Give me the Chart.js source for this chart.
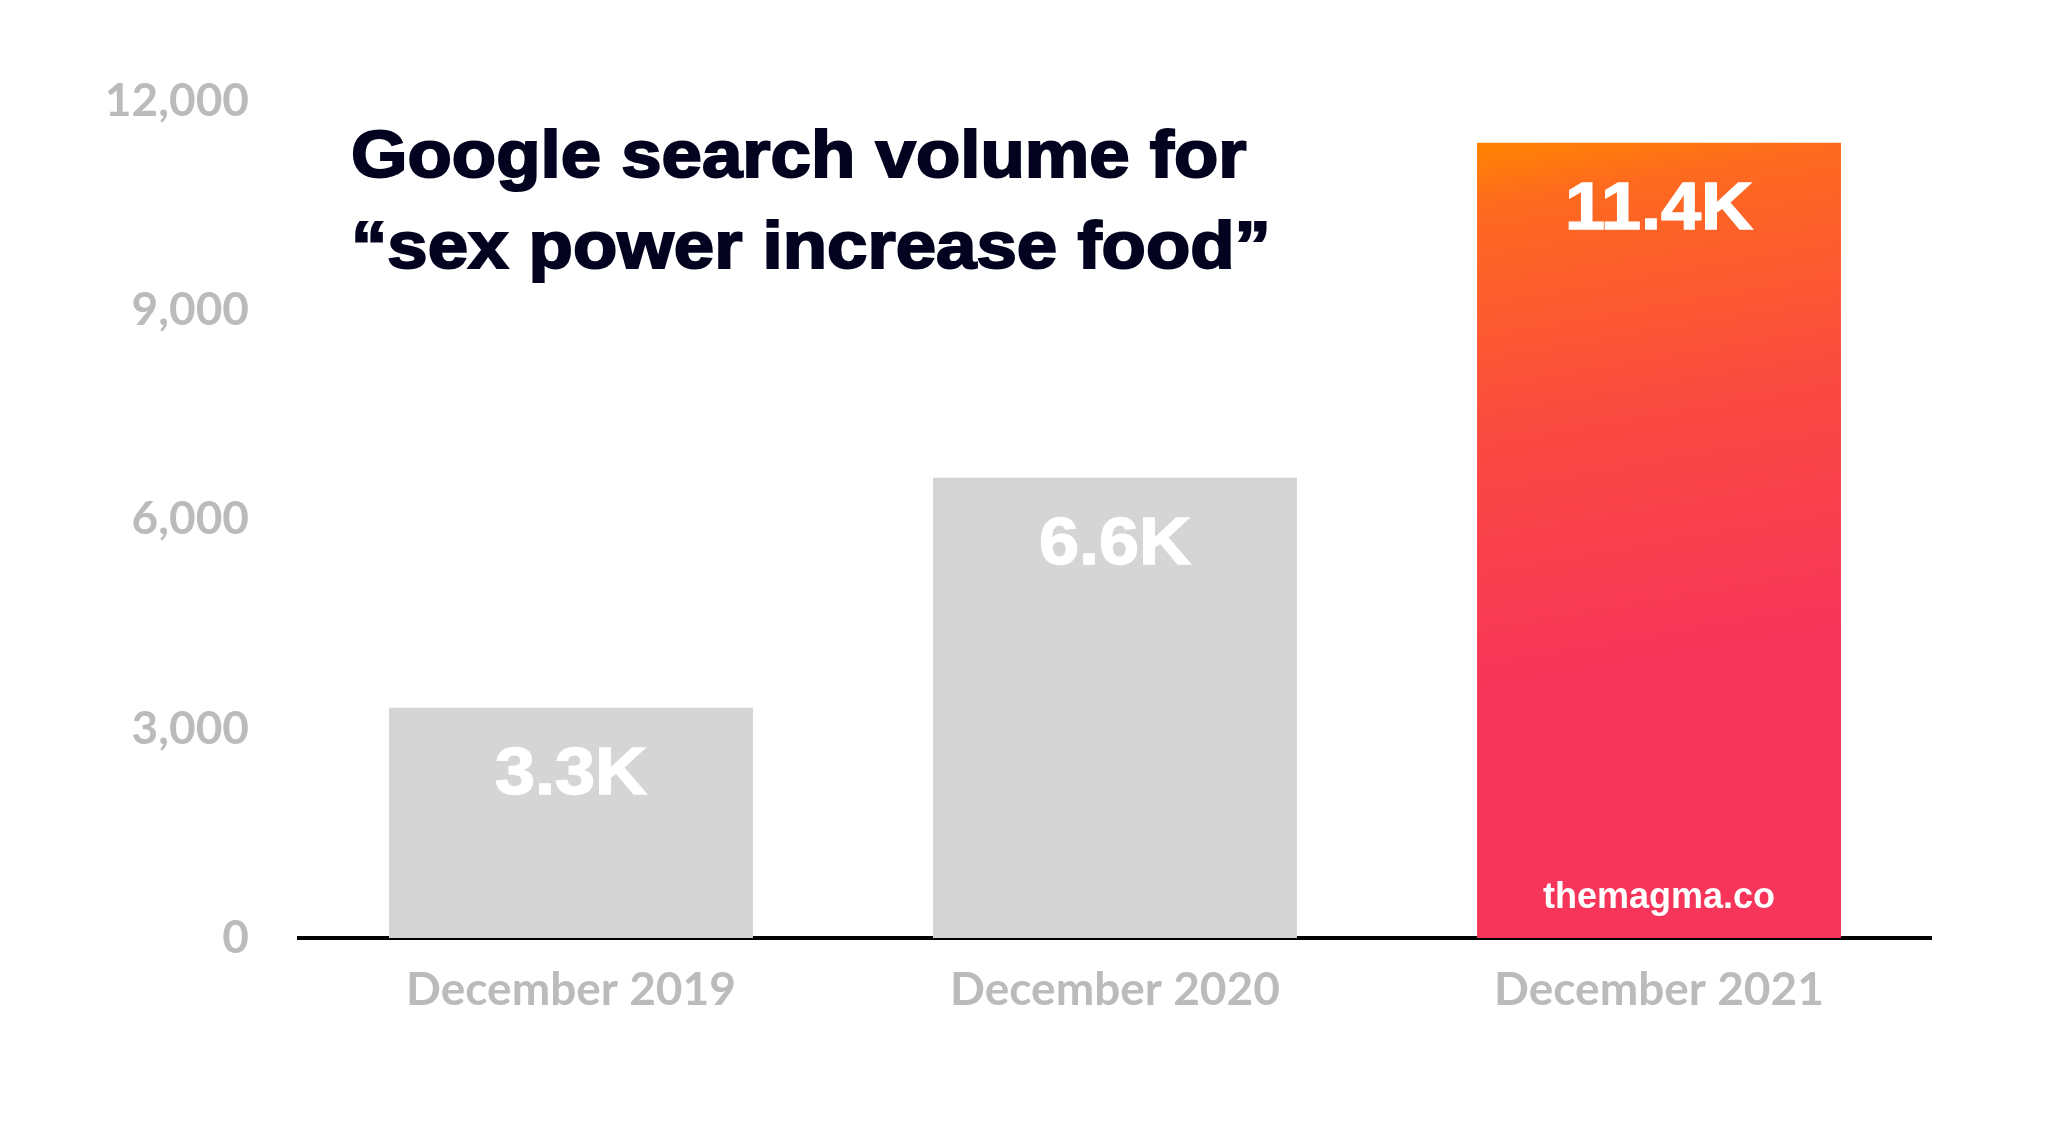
<!DOCTYPE html>
<html>
<head>
<meta charset="utf-8">
<script src="https://cdn.jsdelivr.net/npm/chart.js@4"></script>
<style>
  html, body { margin: 0; padding: 0; background: #fff; }
  #wrap { width: 2048px; height: 1144px; }
</style>
</head>
<body>
<div id="wrap"><canvas id="searchChart" width="2048" height="1144"></canvas></div>
<script>
const months = ['December 2019', 'December 2020', 'December 2021'];
const searchVolume = [3300, 6600, 11400];
const valueLabels = ['3.3K', '6.6K', '11.4K'];
const yTicks = [0, 3000, 6000, 9000, 12000];
const titleLines = ['Google search volume for', '\u201csex power increase food\u201d'];
const watermark = 'themagma.co';

const grey = '#d5d5d5';
const tickGrey = '#bbbbbb';

function barFill(context) {
    const chart = context.chart;
    if (context.dataIndex !== 2) return grey;
    if (!chart.chartArea) return '#f94a40';
    const x = chart.scales.x, y = chart.scales.y;
    const top = y.getPixelForValue(searchVolume[2]);
    const bottom = y.getPixelForValue(0);
    const cx = x.getPixelForValue(2);
    const half = (x.width / months.length) * 0.669 / 2;
    const g = chart.ctx.createLinearGradient(cx - half, top, cx - half + (half * 0.6), top + (bottom - top) * 0.8);
    g.addColorStop(0, '#ff8400');
    g.addColorStop(0.1, '#fe6a1f');
    g.addColorStop(0.45, '#fa4a40');
    g.addColorStop(0.85, '#f7345a');
    g.addColorStop(1, '#f7345a');
    return g;
}

// draw wide heavy text by stretching it a little
function wideText(ctx, text, x, y, stretch) {
    ctx.save();
    ctx.translate(x, y);
    ctx.scale(stretch, 1);
    ctx.fillText(text, 0, 0);
    ctx.strokeText(text, 0, 0);
    ctx.restore();
}

// title, value labels and watermark drawn on top of the bars
const overlay = {
    id: 'overlay',
    afterDatasetsDraw(chart) {
        const ctx = chart.ctx;
        const bars = chart.getDatasetMeta(0).data;
        ctx.save();
        ctx.fillStyle = '#ffffff';
        ctx.strokeStyle = '#ffffff';
        ctx.lineWidth = 1.5;
        ctx.textAlign = 'center';
        ctx.textBaseline = 'middle';
        ctx.font = 'bold 66px "Liberation Sans", Arial, sans-serif';
        bars.forEach((bar, i) => {
            wideText(ctx, valueLabels[i], bar.x, bar.y + 68, 1.09);
        });
        const last = bars[bars.length - 1];
        ctx.font = 'bold 36px "Liberation Sans", Arial, sans-serif';
        ctx.fillText(watermark, last.x, last.base - 40);

        ctx.fillStyle = '#03031f';
        ctx.strokeStyle = '#03031f';
        ctx.lineWidth = 2;
        ctx.textAlign = 'left';
        ctx.textBaseline = 'alphabetic';
        ctx.font = 'bold 66px "Liberation Sans", Arial, sans-serif';
        wideText(ctx, titleLines[0], 351, 177, 1.1);
        wideText(ctx, titleLines[1], 351, 268, 1.1);
        ctx.restore();
    }
};

const ctx = document.getElementById('searchChart').getContext('2d');

const searchChart = new Chart(ctx, {
    type: 'bar',
    data: {
        labels: months,
        datasets: [{
            data: searchVolume,
            backgroundColor: barFill,
            borderWidth: 0,
            barPercentage: 0.669,
            categoryPercentage: 1
        }]
    },
    options: {
        responsive: false,
        animation: false,
        devicePixelRatio: 1,
        layout: {
            padding: { top: 101, right: 117, bottom: 0, left: 0 }
        },
        plugins: {
            legend: { display: false },
            tooltip: { enabled: false }
        },
        scales: {
            x: {
                grid: { display: false },
                border: { display: true, color: '#000000', width: 4 },
                ticks: {
                    color: tickGrey,
                    padding: 17,
                    font: { family: 'Lato', weight: 'bold', size: 46 }
                },
                afterFit: (s) => { s.height = 206; }
            },
            y: {
                min: 0,
                max: 12000,
                grid: { display: false },
                border: { display: false },
                afterBuildTicks: (s) => { s.ticks = yTicks.map(v => ({ value: v })); },
                ticks: {
                    color: tickGrey,
                    padding: 42,
                    font: { family: 'Lato', weight: 'bold', size: 46 },
                    callback: (v) => v.toLocaleString('en-US')
                },
                afterFit: (s) => { s.width = 299; }
            }
        }
    },
    plugins: [overlay]
});
</script>
</body>
</html>
